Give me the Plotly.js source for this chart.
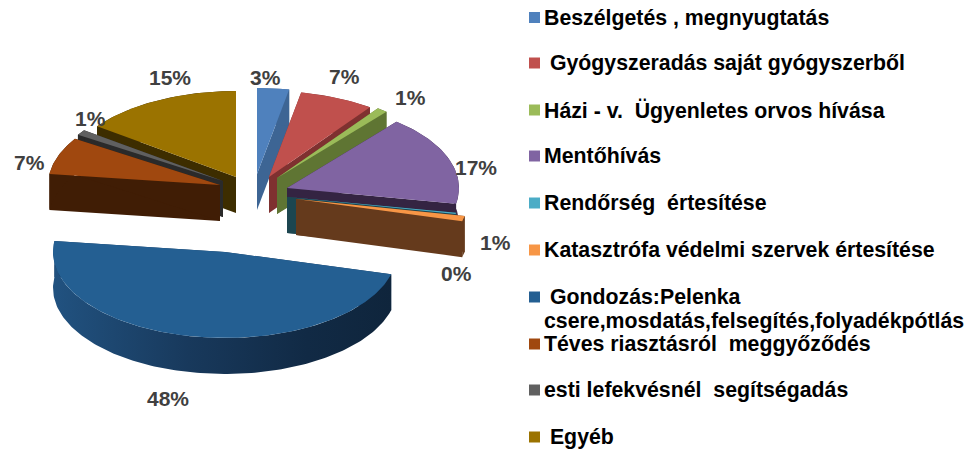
<!DOCTYPE html>
<html><head><meta charset="utf-8">
<script src="https://cdn.plot.ly/plotly-3.0.1.min.js"></script>
<style>html,body{margin:0;padding:0;background:#fff;overflow:hidden}</style>
</head><body><div id="chart" style="width:967px;height:450px"></div>
<script>
// ---- data ----
const categories = [
  "Beszélgetés , megnyugtatás",
  "\u00a0Gyógyszeradás saját gyógyszerből",
  "Házi - v.\u00a0 Ügyenletes orvos hívása",
  "Mentőhívás",
  "Rendőrség\u00a0 értesítése",
  "Katasztrófa védelmi szervek értesítése",
  "\u00a0Gondozás:Pelenka<br>csere,mosdatás,felsegítés,folyadékpótlás",
  "Téves riasztásról\u00a0 meggyőződés",
  "esti lefekvésnél\u00a0 segítségadás",
  "\u00a0Egyéb"
];
const values = [3, 7, 1, 17, 0.2, 1, 48, 7, 1, 15];

// ---- styles and layout of the 3-D look ----
const topColors  = ["#4f81bd","#c0504d","#9bbb59","#8064a2","#4bacc6","#f79646","#245f92","#a0480f","#606060","#9b7300"];
const sideColors = ["#3d6594","#7f3130","#5f7533","#342442","#1d4650","#653a1c","#173a5e","#401d05","#2a2a2a","#3d2d00"];
const apexX = [257,269,277,287,287,296,225,220,223,236];
const apexY = [174,177,178,188,197,199,252,185,181,177];
const drawOrder = [9,8,7,0,1,2,3,4,5,6];
const labelX = [265,344,410,476,456,495,168,29,90,170];
const labelY = [77,76,97,167,273,242,398,162,118,77];
const legendY = [17.5,63,110,156,203,250,297,344,390,437];
const wrapLineGap = 24;
const swatchX = 534.5, textX = 542;
const RX = 172, RY = 86, DEPTH = 36;

const total = values.reduce((a,b)=>a+b,0);
const starts = []; let acc = 0;
values.forEach(v=>{starts.push(acc/total*2*Math.PI); acc+=v;});

function arc(i, dy){
  const t1 = starts[i], t2 = t1 + values[i]/total*2*Math.PI, n = Math.max(4, Math.ceil((t2-t1)/0.02));
  const xs=[], ys=[];
  for(let k=0;k<=n;k++){
    const t = t1+(t2-t1)*k/n;
    xs.push(apexX[i]+RX*Math.sin(t)); ys.push(apexY[i]-RY*Math.cos(t)+dy);
  }
  return [xs,ys];
}
function poly(xs, ys, color, grad){
  const tr = {type:"scatter",mode:"lines",x:xs.concat(xs[0]),y:ys.concat(ys[0]),fill:"toself",
    fillcolor:color,line:{width:0,color:color},hoverinfo:"skip",showlegend:false};
  if(grad) tr.fillgradient = grad;
  return tr;
}
const traces = [];
drawOrder.forEach(i=>{
  const [ax,ay] = arc(i,0), [bx,by] = arc(i,DEPTH);
  const ex=apexX[i], ey=apexY[i], last=ax.length-1;
  // radial faces
  traces.push(poly([ex,ax[0],bx[0],ex],[ey,ay[0],by[0],ey+DEPTH],sideColors[i]));
  traces.push(poly([ex,ax[last],bx[last],ex],[ey,ay[last],by[last],ey+DEPTH],sideColors[i]));
  // outer wall
  const grad = i===6 ? {type:"horizontal",colorscale:[[0,"#215280"],[0.4,"#18395c"],[0.75,"#112a45"],[1,"#0f253c"]]} : null;
  traces.push(poly(ax.concat(bx.slice().reverse()),ay.concat(by.slice().reverse()),sideColors[i],grad));
  // top face
  traces.push(poly([ex].concat(ax),[ey].concat(ay),topColors[i]));
});
// legend swatches
traces.push({type:"scatter",mode:"markers",x:categories.map(()=>swatchX),y:legendY,
  marker:{symbol:"square",size:11,color:topColors,line:{width:0}},hoverinfo:"skip",showlegend:false});

const annotations = [];
values.forEach((v,i)=>annotations.push({x:labelX[i],y:labelY[i],text:"<b>"+Math.round(v)+"%</b>",showarrow:false,
  xanchor:"center",yanchor:"middle",font:{family:"Liberation Sans",size:21,color:"#404040"}}));
categories.forEach((c,i)=>{
  c.split("<br>").forEach((line,k)=>{
    annotations.push({x:textX,y:legendY[i]+k*wrapLineGap,text:"<b>"+line+"</b>",showarrow:false,align:"left",
      xanchor:"left",yanchor:"middle",font:{family:"Liberation Sans",size:21.3,color:"#000"}});
  });
});

Plotly.newPlot("chart",traces,{
  width:967,height:450,margin:{l:0,r:0,t:0,b:0},paper_bgcolor:"#fff",plot_bgcolor:"#fff",showlegend:false,
  xaxis:{range:[0,967],visible:false,fixedrange:true},
  yaxis:{range:[450,0],visible:false,fixedrange:true},
  annotations:annotations
},{displayModeBar:false,staticPlot:true});
</script></body></html>
